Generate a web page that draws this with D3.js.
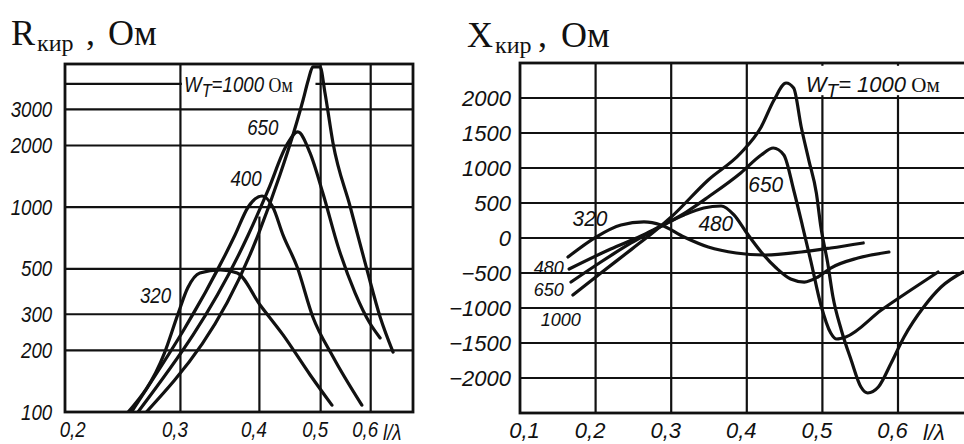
<!DOCTYPE html>
<html>
<head>
<meta charset="utf-8">
<script src="https://cdn.jsdelivr.net/npm/d3@7"></script>
<style>
  body { margin: 0; background: #fff; }
  text { fill: #111; }
  .num { font-family: "Liberation Sans", Arial, sans-serif; font-style: italic; font-size: 22px; }
  .tag { font-size: 19px; }
  .serif { font-family: "Liberation Serif", "Times New Roman", serif; }
</style>
</head>
<body>
<svg id="chart" width="964" height="444"></svg>
<script>
// left chart: R_kir vs l/lambda (log-log), one curve per W_T
const rTicksX = [0.2, 0.3, 0.4, 0.5, 0.6];
const rTicksY = [100, 200, 300, 500, 1000, 2000, 3000];
const rGridX = [0.3, 0.4, 0.5, 0.6];
const rGridY = [200, 300, 500, 1000, 2000, 3000, 4000];

const r320 = [[0.248,100],[0.283,194],[0.297,298],[0.308,403],[0.322,477],[0.347,494],[0.369,477],[0.401,333],[0.436,238],[0.481,152],[0.521,108]];
const r400 = [[0.251,100],[0.366,731],[0.384,1002],[0.404,1134],[0.420,1002],[0.436,731],[0.459,510],[0.486,291],[0.523,186],[0.581,108]];
const r650 = [[0.257,100],[0.384,731],[0.413,1213],[0.442,2013],[0.460,2329],[0.481,1839],[0.504,1173],[0.533,640],[0.567,381],[0.598,272],[0.621,230]];
const r1000 = [[0.265,100],[0.398,731],[0.431,1436],[0.452,2252],[0.469,3337],[0.478,4178],[0.486,4837],[0.499,4837],[0.508,3611],[0.523,2058],[0.557,1002],[0.592,494],[0.621,291],[0.651,196]];

// right chart: X_kir vs l/lambda (linear)
const xTicksX = [0.1, 0.2, 0.3, 0.4, 0.5, 0.6];
const xTicksY = [2000, 1500, 1000, 500, 0, -500, -1000, -1500, -2000];
const xGridX = [0.2, 0.3, 0.4, 0.5, 0.6];

const x320 = [[0.1635,-271],[0.2005,14],[0.2336,186],[0.264,229],[0.2865,186],[0.317,14],[0.349,-129],[0.386,-214],[0.425,-243],[0.472,-200],[0.511,-143],[0.554,-71]];
const x480 = [[0.165,-443],[0.220,-157],[0.260,29],[0.2865,171],[0.317,329],[0.343,429],[0.366,457],[0.383,329],[0.399,86],[0.419,-200],[0.439,-429],[0.458,-586],[0.476,-629],[0.494,-557],[0.511,-429],[0.547,-286],[0.588,-200]];
const x650 = [[0.1675,-629],[0.207,-343],[0.247,-71],[0.2825,143],[0.320,371],[0.349,586],[0.392,929],[0.419,1186],[0.435,1286],[0.449,1186],[0.462,686],[0.474,157],[0.485,-343],[0.498,-957],[0.511,-1357],[0.519,-1443],[0.531,-1414],[0.578,-1029],[0.617,-743],[0.653,-486]];
const x1000 = [[0.170,-814],[0.207,-500],[0.247,-166],[0.280,114],[0.300,300],[0.349,829],[0.392,1214],[0.419,1586],[0.436,1971],[0.452,2214],[0.462,2143],[0.472,1586],[0.482,1114],[0.492,643],[0.498,157],[0.507,-357],[0.514,-843],[0.525,-1314],[0.538,-1743],[0.551,-2129],[0.560,-2214],[0.574,-2129],[0.591,-1786],[0.608,-1414],[0.634,-986],[0.657,-700],[0.686,-486]];

const svg = d3.select('#chart');
svg.append('rect').attr('width', 964).attr('height', 444).attr('fill', '#fff');

const xL = d3.scaleLog().domain([0.197, 0.70]).range([65, 413]);
const yL = d3.scaleLog().domain([100, 5000]).range([412, 64]);
const xR = d3.scaleLinear().domain([0.1, 0.6]).range([520, 898]);
const yR = d3.scaleLinear().domain([-2500, 2500]).range([413, 63]);
const rightEdge = 968;

const gridW = 2.2;
const fmt = d => String(d).replace('.', ',');

function label(g, x, y, txt, anchor, sx, cls) {
    return g.append('text')
        .attr('class', cls || 'num')
        .attr('text-anchor', anchor || 'middle')
        .attr('transform', `translate(${x},${y}) scale(${sx || 0.85},1)`)
        .text(txt);
}

function drawCurves(g, curves, x, y, clipId) {
    const line = d3.line()
        .x(d => x(d[0]))
        .y(d => y(d[1]))
        .curve(d3.curveMonotoneX);
    g.append('g')
        .attr('clip-path', `url(#${clipId})`)
        .selectAll('path')
        .data(curves)
        .enter()
        .append('path')
        .attr('d', line)
        .attr('fill', 'none')
        .attr('stroke', '#111')
        .attr('stroke-width', 3.2)
        .attr('stroke-linejoin', 'round')
        .attr('stroke-linecap', 'round');
}

const defs = svg.append('defs');
defs.append('clipPath').attr('id', 'clipL').append('rect')
    .attr('x', xL.range()[0]).attr('y', yL.range()[1])
    .attr('width', xL.range()[1] - xL.range()[0]).attr('height', yL.range()[0] - yL.range()[1]);
defs.append('clipPath').attr('id', 'clipR').append('rect')
    .attr('x', xR(0.1)).attr('y', yR.range()[1])
    .attr('width', rightEdge - xR(0.1)).attr('height', yR.range()[0] - yR.range()[1]);

// ---- left panel ----
const gL = svg.append('g');

gL.selectAll('.vgrid').data(rGridX).enter().append('line')
    .attr('x1', d => xL(d)).attr('x2', d => xL(d))
    .attr('y1', d => d === 0.4 ? yL(900) : yL(5000)).attr('y2', yL(100))
    .attr('stroke', '#111').attr('stroke-width', gridW);
gL.selectAll('.hgrid').data(rGridY).enter().append('line')
    .attr('x1', xL.range()[0]).attr('x2', xL.range()[1])
    .attr('y1', d => yL(d)).attr('y2', d => yL(d))
    .attr('stroke', '#111').attr('stroke-width', gridW);

// blank area behind the W_T label
gL.append('rect')
    .attr('x', xL(0.3) + 1.5).attr('y', yL(4600))
    .attr('width', xL(0.488) - xL(0.3)).attr('height', yL(3500) - yL(4600))
    .attr('fill', '#fff');

gL.append('rect')
    .attr('x', xL.range()[0]).attr('y', yL.range()[1])
    .attr('width', xL.range()[1] - xL.range()[0]).attr('height', yL.range()[0] - yL.range()[1])
    .attr('fill', 'none').attr('stroke', '#111').attr('stroke-width', 2.8);

drawCurves(gL, [r320, r400, r650, r1000], xL, yL, 'clipL');

const axLB = gL.append('g').attr('transform', `translate(0,${yL(100)})`)
    .call(d3.axisBottom(xL).tickValues(rTicksX).tickFormat(fmt).tickSize(0).tickPadding(9));
axLB.select('.domain').remove();
axLB.selectAll('text').attr('class', 'num')
    .attr('transform', d => `translate(${d === 0.2 ? 3 : -6},0) scale(0.85,1)`);

const axLL = gL.append('g').attr('transform', `translate(${xL.range()[0]},0)`)
    .call(d3.axisLeft(yL).tickValues(rTicksY).tickFormat(d3.format('d')).tickSize(0).tickPadding(15));
axLL.select('.domain').remove();
axLL.selectAll('text').attr('class', 'num').attr('transform', 'scale(0.85,1)');

label(gL, 383, 440, 'l/λ', 'start');
label(gL, xL(0.274), yL(340), '320');
label(gL, xL(0.381), yL(1269), '400');
label(gL, xL(0.405), yL(2252), '650');

const wL = gL.append('text').attr('class', 'num')
    .attr('transform', `translate(${xL(0.304)},${yL(3651)}) scale(0.85,1)`);
wL.append('tspan').text('W');
wL.append('tspan').attr('font-size', 19).attr('dy', 5).text('T');
wL.append('tspan').attr('dy', -5).text('=1000');
wL.append('tspan').attr('class', 'serif').attr('font-style', 'normal').attr('font-size', 21).text(' Ом');

// ---- right panel ----
const gR = svg.append('g');

gR.selectAll('.vgrid').data(xGridX).enter().append('line')
    .attr('x1', d => xR(d)).attr('x2', d => xR(d))
    .attr('y1', yR(2500)).attr('y2', yR(-2500))
    .attr('stroke', '#111').attr('stroke-width', gridW);
gR.selectAll('.hgrid').data(xTicksY).enter().append('line')
    .attr('x1', xR(0.1)).attr('x2', rightEdge)
    .attr('y1', d => yR(d)).attr('y2', d => yR(d))
    .attr('stroke', '#111').attr('stroke-width', gridW);

gR.append('rect')
    .attr('x', xR(0.475)).attr('y', yR(2460))
    .attr('width', rightEdge - xR(0.475)).attr('height', yR(2040) - yR(2460))
    .attr('fill', '#fff');

gR.append('rect')
    .attr('x', xR(0.1)).attr('y', yR.range()[1])
    .attr('width', rightEdge - xR(0.1)).attr('height', yR.range()[0] - yR.range()[1])
    .attr('fill', 'none').attr('stroke', '#111').attr('stroke-width', 2.8);

drawCurves(gR, [x320, x480, x650, x1000], xR, yR, 'clipR');

const axRB = gR.append('g').attr('transform', `translate(0,${yR(-2500)})`)
    .call(d3.axisBottom(xR).tickValues(xTicksX).tickFormat(fmt).tickSize(0).tickPadding(9));
axRB.select('.domain').remove();
axRB.selectAll('text').attr('class', 'num')
    .attr('transform', d => `translate(${d === 0.1 ? 4 : -6},0)`);

const axRL = gR.append('g').attr('transform', `translate(${xR(0.1)},0)`)
    .call(d3.axisLeft(yR).tickValues(xTicksY).tickFormat(d => String(d).replace('-', '−')).tickSize(0).tickPadding(9));
axRL.select('.domain').remove();
axRL.selectAll('text').attr('class', 'num');

label(gR, 923, 440, 'l/λ', 'start', 1);
label(gR, xR(0.1926), yR(171), '320', 'middle', 0.95);
label(gR, xR(0.359), yR(100), '480', 'middle', 0.95);
label(gR, xR(0.425), yR(657), '650', 'middle', 0.95);
label(gR, xR(0.138), yR(-520), '480', 'middle', 0.95, 'num tag');
label(gR, xR(0.138), yR(-830), '650', 'middle', 0.95, 'num tag');
label(gR, xR(0.154), yR(-1250), '1000', 'middle', 0.95, 'num tag');

const wR = gR.append('text').attr('class', 'num')
    .attr('transform', `translate(${xR(0.478)},${yR(2086)})`);
wR.append('tspan').text('W');
wR.append('tspan').attr('font-size', 19).attr('dy', 5).text('T');
wR.append('tspan').attr('dy', -5).text('= 1000');
wR.append('tspan').attr('class', 'serif').attr('font-style', 'normal').attr('font-size', 21).text(' Ом');

// titles
function title(parts) {
    parts.forEach(p => {
        svg.append('text').attr('class', 'serif')
            .attr('x', p[0]).attr('y', p[1]).attr('font-size', p[2])
            .text(p[3]);
    });
}
title([[11, 45, 36, 'R'], [37, 51, 24, 'кир'], [86, 45, 36, ','], [108, 45, 36, 'Ом']]);
title([[467, 47, 36, 'X'], [495, 53, 24, 'кир'], [538, 47, 36, ','], [561, 47, 36, 'Ом']]);
</script>
</body>
</html>
